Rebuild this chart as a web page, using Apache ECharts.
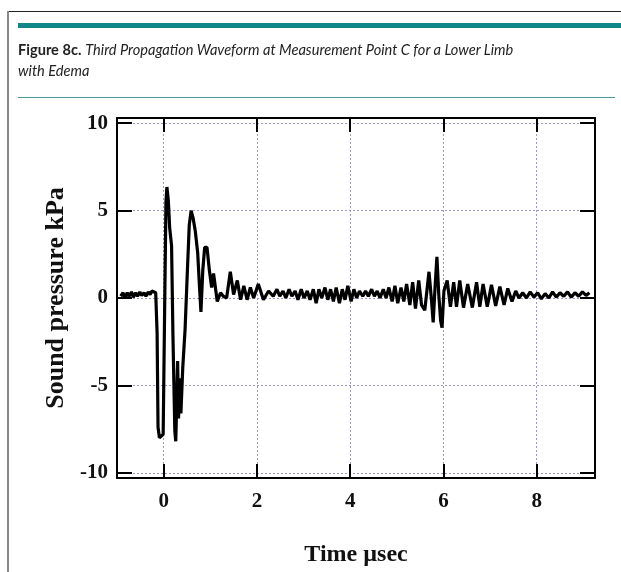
<!DOCTYPE html>
<html>
<head>
<meta charset="utf-8">
<script src="https://cdn.jsdelivr.net/npm/echarts@6/dist/echarts.min.js"></script>
<style>
  html, body { margin: 0; padding: 0; background: #fff; }
  #page { position: relative; width: 621px; height: 572px; overflow: hidden; }
  #frameTop { position: absolute; left: 7px; top: 11px; width: 614px; height: 1px; background: #222; }
  #frameLeft { position: absolute; left: 7px; top: 11px; width: 2px; height: 561px; background: #888; }
  #tealBar { position: absolute; left: 18px; top: 23px; width: 603px; height: 5px; background: #12878a; }
  #tealRule { position: absolute; left: 18px; top: 97px; width: 597px; height: 1px; background: #4a9a9c; }
  #caption {
    position: absolute; left: 18px; top: 39px; width: 590px; white-space: nowrap;
    font-family: Lato, "Open Sans", sans-serif; font-size: 14.6px; line-height: 21px; color: #222;
  }
  #caption b { font-weight: bold; }
  #caption i { font-style: italic; }
  #chart { position: absolute; left: 0; top: 0; width: 621px; height: 572px; }
</style>
</head>
<body>
<div id="page">
  <div id="chart"></div>
  <div id="frameTop"></div>
  <div id="frameLeft"></div>
  <div id="tealBar"></div>
  <div id="caption"><b>Figure 8c.</b> <i>Third Propagation Waveform at Measurement Point C for a Lower Limb<br>with Edema</i></div>
  <div id="tealRule"></div>
</div>
<script>
// waveform (time in µsec, pressure in kPa)
var timeUs = [
  -0.92, -0.87, -0.83, -0.78, -0.74, -0.69, -0.65, -0.60, -0.56, -0.51, -0.47, -0.42, -0.38, -0.33, -0.29, -0.25, -0.21, -0.17,
  -0.14, -0.12, -0.09, -0.05, -0.01, 0.02, 0.05, 0.07, 0.10, 0.13, 0.17, 0.20, 0.24, 0.26, 0.28, 0.30, 0.32, 0.34, 0.37, 0.41,
  0.46, 0.51, 0.55, 0.59, 0.63, 0.68, 0.73, 0.77, 0.80, 0.84, 0.88, 0.93, 0.98, 1.03, 1.07, 1.15, 1.22, 1.28, 1.35,
  1.43, 1.50, 1.58, 1.65, 1.72, 1.79, 1.86, 1.93, 2.03, 2.14, 2.25, 2.35, 2.43, 2.49, 2.56, 2.62, 2.69, 2.75, 2.82, 2.88,
  2.95, 3.01, 3.08, 3.14, 3.21, 3.27, 3.33, 3.39, 3.46, 3.52, 3.58, 3.64, 3.70, 3.77, 3.83, 3.89, 3.95, 4.02, 4.08, 4.14,
  4.20, 4.27, 4.33, 4.39, 4.46, 4.52, 4.58, 4.64, 4.71, 4.77, 4.83, 4.90, 4.96, 5.02, 5.09, 5.15, 5.21, 5.28, 5.34, 5.40,
  5.47, 5.53, 5.60, 5.69, 5.74, 5.78, 5.82, 5.86, 5.90, 5.94, 5.97, 6.01, 6.08, 6.15, 6.22, 6.28, 6.35, 6.43, 6.52, 6.62,
  6.71, 6.78, 6.85, 6.94, 7.03, 7.12, 7.21, 7.30, 7.38, 7.47, 7.55, 7.62, 7.70, 7.78, 7.86, 7.94, 8.02, 8.10, 8.18, 8.26,
  8.34, 8.42, 8.50, 8.58, 8.66, 8.74, 8.82, 8.90, 8.98, 9.06, 9.13
];
var pressureKPa = [
  0.1, 0.3, 0.0, 0.3, 0.1, 0.35, 0.05, 0.3, 0.1, 0.35, 0.15, 0.3, 0.1, 0.35, 0.2, 0.4, 0.5, 0.3,
  -2.0, -7.4, -8.0, -8.1, -7.8, -1.0, 5.5, 6.35, 5.6, 4.0, 3.0, -2.2, -7.6, -8.2, -6.0, -3.6, -6.9, -4.6, -6.6, -4.0,
  -1.8, 1.6, 4.2, 5.0, 4.6, 3.8, 2.6, 0.6, -0.8, 1.6, 2.9, 2.9, 1.6, 0.6, 1.4, -0.2, 0.3, 0.1, 0.0,
  1.5, 0.2, 1.0, -0.1, 0.7, -0.1, 0.6, 0.0, 0.8, -0.1, 0.4, 0.1, 0.5, 0.1, 0.4, 0.0, 0.5, 0.1, 0.4, -0.1,
  0.5, 0.0, 0.4, -0.1, 0.5, -0.3, 0.5, 0.0, 0.6, -0.1, 0.5, -0.2, 0.6, -0.3, 0.5, -0.1, 0.7, -0.2, 0.5, 0.0,
  0.4, 0.1, 0.4, 0.1, 0.5, 0.1, 0.4, 0.0, 0.5, 0.0, 0.6, -0.2, 0.7, -0.3, 0.6, -0.2, 0.8, -0.4, 0.9, -0.6,
  1.0, -0.4, -0.7, 1.5, 0.0, -1.4, 0.6, 2.35, 0.2, -1.3, -1.7, 0.4, 1.0, -0.5, 0.9, -0.5, 1.0, -0.55, 0.8, -0.55,
  0.9, -0.5, 0.8, -0.5, 0.75, -0.45, 0.65, -0.4, 0.55, -0.2, 0.4, 0.0, 0.3, 0.0, 0.35, 0.05, 0.3, -0.05, 0.25, 0.0,
  0.35, 0.05, 0.3, 0.1, 0.35, 0.05, 0.3, 0.1, 0.35, 0.15, 0.3
];
var xTicks = [0, 2, 4, 6, 8];
var yTicks = [-10, -5, 0, 5, 10];

var serif = '"Liberation Serif", "Times New Roman", serif';
var gridDots = { show: true, lineStyle: { color: '#9a9ac4', width: 1, type: [2, 2] } };
var frameLine = { show: true, onZero: false, lineStyle: { color: '#000', width: 2 } };
var tickStyle = { color: '#000', width: 2 };

var chart = echarts.init(document.getElementById('chart'));
chart.setOption({
  animation: false,
  grid: { left: 117, top: 118, width: 478, height: 360, containLabel: false },
  xAxis: [
    {
      type: 'value', min: -1, max: 9.25, position: 'bottom',
      name: 'Time µsec', nameLocation: 'middle', nameGap: 65,
      nameTextStyle: { fontFamily: serif, fontWeight: 'bold', fontSize: 24, color: '#111' },
      axisLine: frameLine,
      axisTick: { inside: true, length: 14, customValues: xTicks, lineStyle: tickStyle },
      axisLabel: { customValues: xTicks, margin: 13, fontFamily: serif, fontWeight: 'bold', fontSize: 21, color: '#111' },
      splitLine: gridDots
    },
    {
      type: 'value', min: -1, max: 9.25, position: 'top',
      axisLine: frameLine,
      axisTick: { inside: true, length: 14, customValues: xTicks, lineStyle: tickStyle },
      axisLabel: { show: false },
      splitLine: { show: false }
    }
  ],
  yAxis: [
    {
      type: 'value', min: -10.3, max: 10.3, position: 'left',
      name: 'Sound pressure kPa', nameLocation: 'middle', nameGap: 46, nameRotate: 90,
      nameTextStyle: { fontFamily: serif, fontWeight: 'bold', fontSize: 26, color: '#111' },
      axisLine: frameLine,
      axisTick: { inside: true, length: 15, customValues: yTicks, lineStyle: tickStyle },
      axisLabel: { customValues: yTicks, margin: 9, fontFamily: serif, fontWeight: 'bold', fontSize: 21, color: '#111' },
      splitLine: gridDots
    },
    {
      type: 'value', min: -10.3, max: 10.3, position: 'right',
      axisLine: frameLine,
      axisTick: { inside: true, length: 15, customValues: yTicks, lineStyle: tickStyle },
      axisLabel: { show: false },
      splitLine: { show: false }
    }
  ],
  series: [
    {
      type: 'line',
      data: timeUs.map(function (t, i) { return [t, pressureKPa[i]]; }),
      showSymbol: false,
      lineStyle: { color: '#000', width: 3.2 },
      z: 5
    }
  ]
});
</script>
</body>
</html>
